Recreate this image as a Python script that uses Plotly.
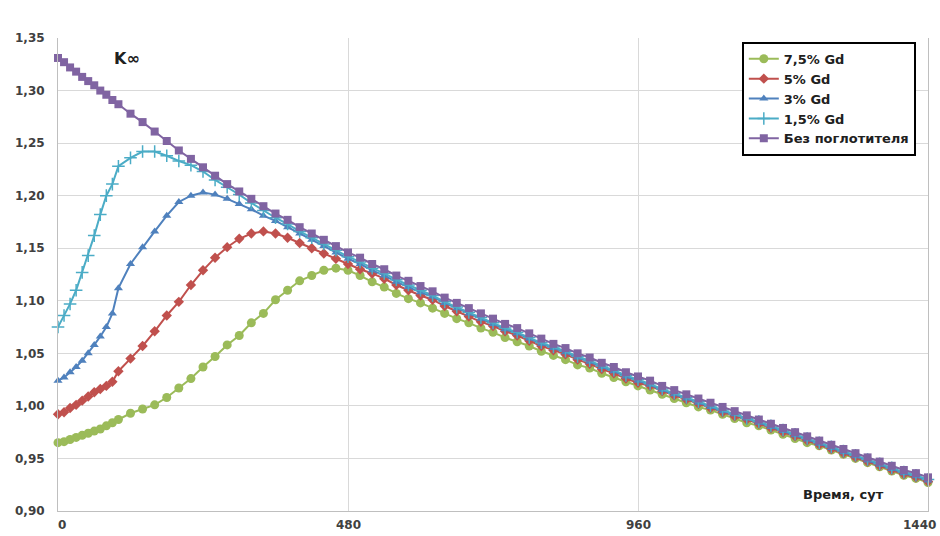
import plotly.graph_objects as go

# Burnup time, days
days = [0, 10, 20, 30, 40, 50, 60, 70, 80, 90, 100,
        120, 140, 160, 180, 200, 220, 240, 260, 280, 300,
        320, 340, 360, 380, 400, 420, 440, 460, 480, 500,
        520, 540, 560, 580, 600, 620, 640, 660, 680, 700,
        720, 740, 760, 780, 800, 820, 840, 860, 880, 900,
        920, 940, 960, 980, 1000, 1020, 1040, 1060, 1080, 1100,
        1120, 1140, 1160, 1180, 1200, 1220, 1240, 1260, 1280, 1300,
        1320, 1340, 1360, 1380, 1400, 1420, 1440]

# K-infinity for each gadolinium loading
k_gd75 = [0.965, 0.966, 0.968, 0.970, 0.972, 0.974, 0.976, 0.978, 0.981, 0.984, 0.987,
          0.993, 0.997, 1.001, 1.008, 1.017, 1.026, 1.037, 1.047, 1.058, 1.067,
          1.079, 1.088, 1.101, 1.110, 1.119, 1.124, 1.129, 1.131, 1.129, 1.124,
          1.118, 1.113, 1.107, 1.102, 1.098, 1.093, 1.088, 1.083, 1.079, 1.074,
          1.070, 1.065, 1.061, 1.057, 1.052, 1.048, 1.044, 1.039, 1.036, 1.031,
          1.027, 1.023, 1.019, 1.015, 1.011, 1.007, 1.003, 0.999, 0.996, 0.992,
          0.988, 0.984, 0.981, 0.977, 0.973, 0.969, 0.965, 0.962, 0.958, 0.954,
          0.950, 0.946, 0.942, 0.938, 0.934, 0.931, 0.927]

k_gd5 = [0.992, 0.994, 0.998, 1.001, 1.005, 1.009, 1.013, 1.016, 1.019, 1.023, 1.033,
         1.045, 1.057, 1.071, 1.086, 1.099, 1.115, 1.129, 1.141, 1.151, 1.159,
         1.164, 1.166, 1.164, 1.160, 1.155, 1.150, 1.145, 1.140, 1.135, 1.130,
         1.126, 1.121, 1.115, 1.110, 1.105, 1.101, 1.095, 1.090, 1.085, 1.080,
         1.076, 1.071, 1.067, 1.062, 1.057, 1.053, 1.049, 1.044, 1.040, 1.035,
         1.031, 1.026, 1.022, 1.019, 1.014, 1.010, 1.006, 1.002, 0.998, 0.994,
         0.990, 0.987, 0.983, 0.979, 0.975, 0.971, 0.967, 0.963, 0.959, 0.955,
         0.951, 0.947, 0.943, 0.939, 0.935, 0.932, 0.928]

k_gd3 = [1.024, 1.027, 1.032, 1.037, 1.043, 1.050, 1.058, 1.066, 1.075, 1.088, 1.112,
         1.135, 1.151, 1.166, 1.181, 1.194, 1.200, 1.203, 1.201, 1.197, 1.192,
         1.187, 1.181, 1.176, 1.170, 1.164, 1.158, 1.152, 1.146, 1.140, 1.135,
         1.129, 1.124, 1.118, 1.113, 1.108, 1.104, 1.098, 1.093, 1.088, 1.083,
         1.078, 1.073, 1.069, 1.064, 1.059, 1.055, 1.051, 1.046, 1.042, 1.037,
         1.033, 1.028, 1.024, 1.020, 1.015, 1.011, 1.007, 1.003, 0.999, 0.995,
         0.992, 0.988, 0.984, 0.980, 0.976, 0.972, 0.968, 0.964, 0.960, 0.956,
         0.952, 0.948, 0.944, 0.940, 0.936, 0.933, 0.929]

k_gd15 = [1.075, 1.086, 1.097, 1.110, 1.127, 1.143, 1.162, 1.182, 1.200, 1.211, 1.228,
          1.236, 1.242, 1.242, 1.238, 1.233, 1.229, 1.223, 1.215, 1.208, 1.201,
          1.193, 1.186, 1.179, 1.173, 1.166, 1.160, 1.154, 1.148, 1.142, 1.137,
          1.131, 1.126, 1.120, 1.115, 1.110, 1.105, 1.099, 1.094, 1.089, 1.084,
          1.079, 1.074, 1.070, 1.065, 1.060, 1.056, 1.052, 1.047, 1.043, 1.038,
          1.034, 1.029, 1.025, 1.021, 1.016, 1.012, 1.008, 1.004, 1.000, 0.996,
          0.992, 0.988, 0.985, 0.981, 0.977, 0.973, 0.969, 0.965, 0.961, 0.957,
          0.953, 0.949, 0.945, 0.941, 0.937, 0.934, 0.930]

k_none = [1.331, 1.327, 1.322, 1.318, 1.313, 1.309, 1.305, 1.300, 1.296, 1.291, 1.287,
          1.278, 1.270, 1.261, 1.252, 1.243, 1.235, 1.227, 1.219, 1.211, 1.204,
          1.197, 1.190, 1.183, 1.177, 1.170, 1.164, 1.158, 1.152, 1.146, 1.141,
          1.135, 1.130, 1.124, 1.119, 1.114, 1.109, 1.103, 1.098, 1.093, 1.088,
          1.083, 1.078, 1.074, 1.069, 1.064, 1.059, 1.055, 1.050, 1.046, 1.041,
          1.037, 1.032, 1.028, 1.024, 1.019, 1.015, 1.011, 1.007, 1.003, 0.999,
          0.995, 0.991, 0.987, 0.983, 0.979, 0.975, 0.971, 0.967, 0.963, 0.959,
          0.955, 0.951, 0.947, 0.943, 0.939, 0.936, 0.932]

series_names = ["7,5% Gd", "5% Gd", "3% Gd", "1,5% Gd", "Без поглотителя"]

x_ticks = [0, 480, 960, 1440]
x_labels = ["0", "480", "960", "1440"]
y_ticks = [0.90, 0.95, 1.00, 1.05, 1.10, 1.15, 1.20, 1.25, 1.30, 1.35]
y_labels = ["0,90", "0,95", "1,00", "1,05", "1,10", "1,15", "1,20", "1,25", "1,30", "1,35"]

FONT = "DejaVu Sans"

styles = [
    dict(color="#9BBB59", symbol="circle", size=9, width=2),
    dict(color="#C0504D", symbol="diamond", size=8, width=2),
    dict(color="#4F81BD", symbol="triangle-up", size=8, width=2),
    dict(color="#4BACC6", symbol="cross-thin", size=9, width=2),
    dict(color="#8064A2", symbol="square", size=8, width=2),
]

fig = go.Figure()
for name, values, st in zip(series_names,
                            [k_gd75, k_gd5, k_gd3, k_gd15, k_none], styles):
    marker = dict(symbol=st["symbol"], size=st["size"], color=st["color"])
    if st["symbol"] == "cross-thin":
        marker["line"] = dict(color=st["color"], width=1.5)
    fig.add_trace(go.Scatter(
        x=days, y=values, name=name, mode="lines+markers",
        line=dict(color=st["color"], width=st["width"]),
        marker=marker, cliponaxis=False,
    ))

tick_font = dict(family=FONT, size=12, color="#404040", weight="bold")

# x tick labels written as annotations so the last one stays inside the page
annotations = []
for val, lab in zip(x_ticks, x_labels):
    if val == x_ticks[-1]:
        anchor, shift = "right", 10
    elif val == x_ticks[0]:
        anchor, shift = "center", 4
    else:
        anchor, shift = "center", 0
    annotations.append(dict(
        text=lab, x=val, y=0, xref="x", yref="paper",
        xanchor=anchor, yanchor="top", yshift=-5, xshift=shift,
        showarrow=False, font=tick_font))

annotations += [
    dict(text="K∞", x=0.062, y=0.957, xref="paper", yref="paper",
         xanchor="left", yanchor="middle", showarrow=False,
         font=dict(family=FONT, size=16, color="#202020", weight="bold")),
    dict(text="Время, сут", x=0.952, y=0.034, xref="paper", yref="paper",
         xanchor="right", yanchor="middle", showarrow=False,
         font=dict(family=FONT, size=13, color="#202020", weight="bold")),
]

fig.update_layout(
    width=940, height=536,
    margin=dict(l=58, r=12, t=38, b=25),
    paper_bgcolor="white", plot_bgcolor="white",
    showlegend=True,
    legend=dict(
        x=0.786, y=0.992, xanchor="left", yanchor="top",
        bgcolor="white", bordercolor="#000000", borderwidth=2,
        font=dict(family=FONT, size=13, color="#202020", weight="bold"),
        itemwidth=30, tracegroupgap=0,
    ),
    xaxis=dict(
        range=[0, 1440], tickvals=x_ticks, showticklabels=False,
        showgrid=True, gridcolor="#D9D9D9", gridwidth=1,
        showline=True, linecolor="#BFBFBF", linewidth=1,
        zeroline=False, ticks="",
    ),
    yaxis=dict(
        range=[0.90, 1.35], tickvals=y_ticks, ticktext=y_labels,
        showgrid=True, gridcolor="#D9D9D9", gridwidth=1,
        showline=True, linecolor="#BFBFBF", linewidth=1, mirror=True,
        zeroline=False, ticks="", tickfont=tick_font, ticklabelstandoff=10,
    ),
    annotations=annotations,
)

fig.write_html("out.html")
